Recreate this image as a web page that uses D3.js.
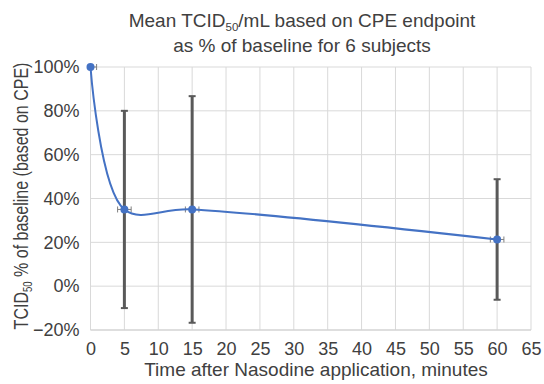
<!DOCTYPE html>
<html>
<head>
<meta charset="utf-8">
<script src="https://cdn.jsdelivr.net/npm/d3@7"></script>
<style>
  body { margin: 0; background: #fff; }
  text { font-family: "Liberation Sans", Arial, sans-serif; fill: #404040; }
</style>
</head>
<body>
<svg id="chart" width="544" height="384"></svg>
<script>
// data
const minutes = [0, 5, 15, 60];
const meanPct = [100, 35, 35, 21.3];
const yErr = [0, 45, 51.7, 27.5];
const xErr = [0.9, 1, 1, 1];
const xTicks = d3.range(0, 66, 5);
const yTicks = [-20, 0, 20, 40, 60, 80, 100];

const margin = {top: 67, right: 13, bottom: 54, left: 90.5};
const width = 544 - margin.left - margin.right,
      height = 384 - margin.top - margin.bottom;

const svg = d3.select('#chart');
const g = svg.append('g')
  .attr('transform', 'translate(' + margin.left + ',' + margin.top + ')');

let x = d3.scaleLinear().domain([0, 65]).range([0, width]);
let y = d3.scaleLinear().domain([-20, 100]).range([height, 0]);

// gridlines
g.append('g').selectAll('line.h')
  .data(yTicks)
  .join('line')
  .attr('x1', 0).attr('x2', width)
  .attr('y1', d => y(d)).attr('y2', d => y(d))
  .attr('stroke', '#d9d9d9').attr('stroke-width', 1);

g.append('g').selectAll('line.v')
  .data(xTicks)
  .join('line')
  .attr('y1', 0).attr('y2', height)
  .attr('x1', d => x(d)).attr('x2', d => x(d))
  .attr('stroke', '#d9d9d9').attr('stroke-width', 1);

// axes (labels only)
const xAxis = d3.axisBottom(x).tickValues(xTicks).tickSize(0).tickPadding(12);
const yAxis = d3.axisLeft(y).tickValues(yTicks).tickSize(0).tickPadding(11)
  .tickFormat(d => (d < 0 ? '\u2212' + Math.abs(d) : d) + '%');

g.append('g')
  .attr('transform', 'translate(0,' + height + ')')
  .call(xAxis)
  .call(s => s.select('.domain').remove())
  .selectAll('text').style('font-size', '18px').attr('fill', '#404040');

g.append('g')
  .call(yAxis)
  .call(s => s.select('.domain').remove())
  .selectAll('text').style('font-size', '18px').attr('fill', '#404040');

// bottom axis line
g.append('line')
  .attr('x1', 0).attr('x2', width)
  .attr('y1', height).attr('y2', height)
  .attr('stroke', '#d0d0d0');

const pts = minutes.map((m, i) => ({m: m, v: meanPct[i], ey: yErr[i], ex: xErr[i]}));

// vertical error bars
const eb = g.append('g').attr('stroke', '#595959');
pts.filter(d => d.ey > 0).forEach(d => {
  eb.append('line')
    .attr('x1', x(d.m)).attr('x2', x(d.m))
    .attr('y1', y(d.v + d.ey)).attr('y2', y(d.v - d.ey))
    .attr('stroke-width', 3);
  [d.v + d.ey, d.v - d.ey].forEach(v => {
    eb.append('line')
      .attr('x1', x(d.m) - 3.5).attr('x2', x(d.m) + 3.5)
      .attr('y1', y(v)).attr('y2', y(v))
      .attr('stroke-width', 2);
  });
});

// horizontal error bars
const hb = g.append('g').attr('stroke', '#7f7f7f').attr('stroke-width', 1);
pts.forEach(d => {
  hb.append('line')
    .attr('x1', x(Math.max(0, d.m - d.ex))).attr('x2', x(d.m + d.ex))
    .attr('y1', y(d.v)).attr('y2', y(d.v));
  [d.m - d.ex, d.m + d.ex].forEach(m => {
    if (m < 0) return;
    hb.append('line')
      .attr('x1', x(m)).attr('x2', x(m))
      .attr('y1', y(d.v) - 3).attr('y2', y(d.v) + 3);
  });
});

// smoothed line
const line = d3.line()
  .x(d => x(d.m))
  .y(d => y(d.v))
  .curve(d3.curveCatmullRom.alpha(0.5));

g.append('path')
  .datum(pts)
  .attr('d', line)
  .attr('fill', 'none')
  .attr('stroke', '#4472c4')
  .attr('stroke-width', 2);

g.selectAll('circle')
  .data(pts)
  .join('circle')
  .attr('cx', d => x(d.m))
  .attr('cy', d => y(d.v))
  .attr('r', 4)
  .attr('fill', '#4472c4');

// title
const title = svg.append('text')
  .attr('text-anchor', 'middle')
  .style('font-size', '19px');
const t1 = title.append('tspan').attr('x', 302).attr('y', 27);
t1.append('tspan').text('Mean TCID');
t1.append('tspan').attr('dy', 4).style('font-size', '11.5px').text('50');
t1.append('tspan').attr('dy', -4).text('/mL based on CPE endpoint');
title.append('tspan').attr('x', 302).attr('y', 52).text('as % of baseline for 6 subjects');

// x axis title
svg.append('text')
  .attr('x', 316).attr('y', 376)
  .attr('text-anchor', 'middle')
  .style('font-size', '19px')
  .text('Time after Nasodine application, minutes');

// y axis title
const yt = svg.append('text')
  .attr('transform', 'translate(28.3,196)rotate(-90)scale(0.8,1)')
  .attr('text-anchor', 'middle')
  .style('font-size', '20px');
yt.append('tspan').text('TCID');
yt.append('tspan').attr('dy', 4).style('font-size', '12px').text('50');
yt.append('tspan').attr('dy', -4).text(' % of baseline (based on CPE)');
</script>
</body>
</html>
